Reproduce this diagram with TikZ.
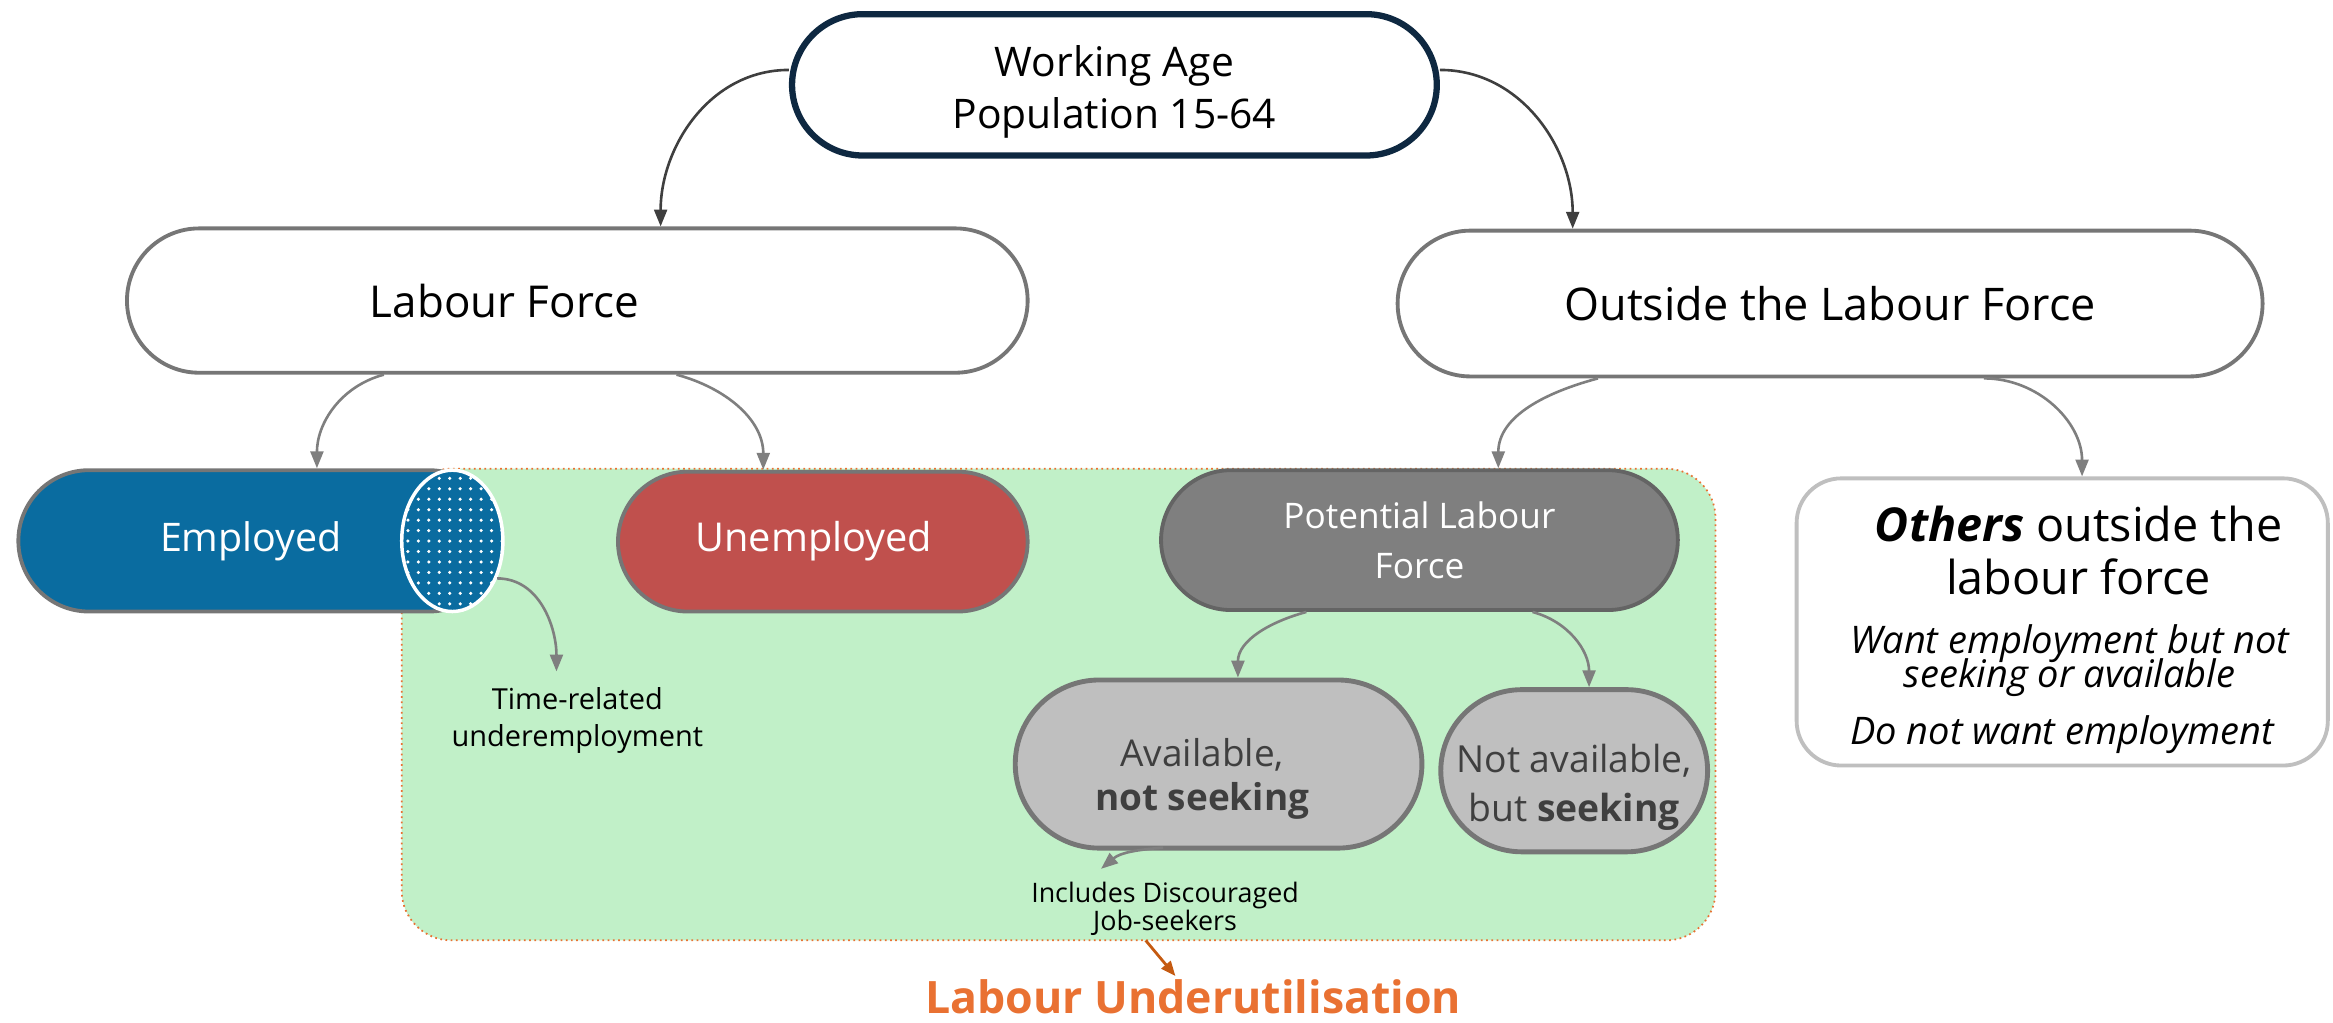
\documentclass[tikz,border=0pt]{standalone}
\usepackage{fontspec}
\setmainfont{Open Sans}
\usetikzlibrary{shapes.misc,shapes.geometric,arrows.meta,patterns}
\definecolor{navy}{HTML}{0E2841}
\definecolor{boxgray}{HTML}{767676}
\definecolor{arrgray}{HTML}{7F7F7F}
\definecolor{empblue}{HTML}{0A6CA0}
\definecolor{unred}{HTML}{C0504D}
\definecolor{potgray}{HTML}{7F7F7F}
\definecolor{lightgray}{HTML}{BFBFBF}
\definecolor{txtgray}{HTML}{3F3F3F}
\definecolor{uugreen}{HTML}{C1F0C8}
\definecolor{uuorange}{HTML}{E97132}
\definecolor{uubrown}{HTML}{C55A11}
\tikzstyle{pill}=[rounded rectangle,draw=boxgray,line width=1.1pt,inner sep=1pt,align=center]
\tikzstyle{arr}=[draw=arrgray,line width=0.75pt,-{Triangle[length=1.7mm,width=1.3mm]}]
\tikzstyle{note}=[inner sep=0pt,align=center]
\newcommand{\fs}[2]{\fontsize{#1}{#2}\selectfont\lineskiplimit=-20pt}

\begin{document}
\begin{tikzpicture}[x=0.15mm,y=0.15mm]
\useasboundingbox (0,0) rectangle (1568,-687);
% underutilisation area
\draw[fill=uugreen,draw=uuorange,densely dotted,line width=0.5pt,rounded corners=5mm] (270,-315) rectangle (1153,-632);
% top levels
\node[pill,draw=navy,line width=1.8pt,fill=white,minimum width=65.7mm,minimum height=14.25mm,
  label={[note,yshift=-0.75mm,font=\fs{11.7}{14.9}]center:Working Age\\Population 15-64}] (wap) at (749,-57) {};
\node[pill,fill=white,minimum width=91.5mm,minimum height=14.55mm,font=\fs{12.6}{15}] (lf) at (388,-202) {\hspace*{-14.7mm}Labour Force};
\node[pill,fill=white,minimum width=87.9mm,minimum height=14.7mm,font=\fs{12.9}{15}] (olf) at (1230,-204) {Outside the Labour Force};
% third row
\node[pill,fill=empblue,text=white,minimum width=49.2mm,minimum height=14.25mm,font=\fs{11.3}{14}] (emp) at (174,-363.5) {\hspace*{-1.6mm}Employed};
\node[ellipse,fill=empblue,draw=white,line width=1pt,inner sep=0pt,minimum width=10.2mm,minimum height=14.25mm,postaction={pattern=dots,pattern color=white}] (tr) at (304,-363.5) {};
\node[pill,fill=unred,text=white,minimum width=42mm,minimum height=14.1mm,font=\fs{11.4}{14}] (unemp) at (553,-364) {\hspace*{-1.8mm}Unemployed};
\node[pill,fill=potgray,draw=boxgray!85!black,text=white,minimum width=52.8mm,minimum height=14.1mm,font=\fs{10.1}{14.5}] (plf) at (954,-363) {Potential Labour\\Force};
\node[draw=lightgray,line width=1.1pt,fill=white,rounded corners=4.5mm,minimum width=53.55mm,minimum height=28.95mm] (oth) at (1386,-418) {};
% potential labour force split
\node[pill,fill=lightgray,line width=1.4pt,minimum width=41.7mm,minimum height=16.95mm,
  label={[note,xshift=-1.65mm,yshift=-1.5mm,text=txtgray,font=\fs{10.6}{12.8}]center:Available,\\\textbf{not seeking}}] (avail) at (819,-513.5) {};
\node[pill,fill=lightgray,line width=1.4pt,minimum width=27.6mm,minimum height=16.35mm,
  label={[note,yshift=-1.65mm,text=txtgray,font=\fs{10.7}{14}]center:Not available,\\but \textbf{seeking}}] (navail) at (1058,-518) {};
% notes
\node[note,font=\fs{8.3}{10.7}] (tru) at (388,-484) {Time-related\\underemployment};
\node[note,font=\fs{7.7}{8}] (disc) at (783,-611) {Includes Discouraged\\Job-seekers};
\node[note,text=uuorange,font=\fs{12.8}{15}\bfseries] (lu) at (802,-670) {Labour Underutilisation};
\node[note,font=\fs{13.4}{15.3}] (othA) at (1397,-370) {\textbf{\textit{Others}} outside the\\labour force};
\node[note,font=\fs{10.9}{9.6}\itshape] (othB) at (1391,-444) {Want employment but not\\seeking or available};
\node[note,font=\fs{10.9}{12}\itshape] (othC) at (1386,-494) {Do not want employment};
% arrows
\draw[arr,draw=txtgray] ([yshift=1.5mm]wap.west) to[out=180,in=90] ([xshift=8.4mm]lf.north);
\draw[arr,draw=txtgray] ([yshift=1.5mm]wap.east) to[out=0,in=90] ([xshift=-25.95mm]olf.north);
\draw[arr] ([xshift=-19.5mm]lf.south) to[out=195,in=90] ([xshift=5.85mm]emp.north);
\draw[arr] ([xshift=10mm]lf.south) to[out=-15,in=90] ([xshift=-6mm]unemp.north);
\draw[arr] ([xshift=-23.4mm]olf.south) to[out=195,in=90] ([xshift=7.95mm]plf.north);
\draw[arr] ([xshift=15.5mm]olf.south) to[out=0,in=90] ([xshift=2mm]oth.north);
\draw[arr] (tr.-40) to[out=0,in=90] ([xshift=-2.1mm,yshift=1.5mm]tru.north);
\draw[arr] ([xshift=-11.4mm]plf.south) to[out=195,in=90] ([xshift=1.95mm]avail.north);
\draw[arr] ([xshift=11.4mm]plf.south) to[out=-15,in=90] ([xshift=1.5mm]navail.north);
\draw[arr] ([xshift=-5.6mm,yshift=0.3mm]avail.south) to[out=185,in=40] ([xshift=-6.45mm,yshift=1.3mm]disc.north);
\draw[-{Triangle[length=1.5mm,width=1.2mm]},draw=uubrown,line width=0.8pt] ([xshift=-1.95mm,yshift=-0.4mm]disc.south) -- ([xshift=-1.8mm,yshift=0.3mm]lu.north);
\end{tikzpicture}
\end{document}
